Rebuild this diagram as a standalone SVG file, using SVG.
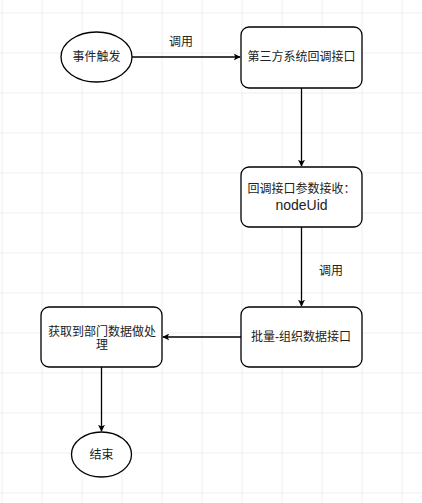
<svg xmlns="http://www.w3.org/2000/svg" width="422" height="503" viewBox="0 0 422 503">
<defs>
<pattern id="grid" x="1.5" y="12.5" width="40" height="40" patternUnits="userSpaceOnUse">
<path d="M0 0H40M0 0V40" fill="none" stroke="#dedede" stroke-width="1"/>
</pattern>
<marker id="arr" viewBox="0 0 10 10" refX="9" refY="5" markerWidth="7" markerHeight="7" markerUnits="userSpaceOnUse" orient="auto">
<path d="M0 0L10 5L0 10L2.5 5Z" fill="#000"/>
</marker>
</defs>
<style>
.n{fill:#fff;stroke:#000;stroke-width:1.3}
.t{font-family:"Liberation Sans","Noto Sans CJK SC",sans-serif;font-size:12px;fill:#222;text-anchor:middle;dominant-baseline:central}
.e{fill:none;stroke:#000;stroke-width:1.3;marker-end:url(#arr)}
</style>
<rect width="422" height="503" fill="#fff"/>
<rect width="422" height="503" fill="url(#grid)"/>
<g id="connectors">
<path class="e" d="M132 57H240"/>
<path class="e" d="M301.5 88V166"/>
<path class="e" d="M301.5 227V306"/>
<path class="e" d="M241 337H163"/>
<path class="e" d="M101.5 367V431"/>
<text class="t" x="181" y="42">调用</text>
<text class="t" x="331" y="271">调用</text>
</g>
<g id="start">
<ellipse class="n" cx="96.5" cy="57" rx="35.5" ry="25"/>
<text class="t" x="96.5" y="57">事件触发</text>
</g>
<g id="callback">
<rect class="n" x="241" y="27" width="121" height="61" rx="8"/>
<text class="t" x="301.5" y="57">第三方系统回调接口</text>
</g>
<g id="params">
<rect class="n" x="241" y="167" width="121" height="60" rx="8"/>
<text class="t" x="301.5" y="189">回调接口参数接收：</text>
<text class="t" x="301.5" y="204.5" style="font-size:14px">nodeUid</text>
</g>
<g id="batch">
<rect class="n" x="241" y="307" width="121" height="60" rx="8"/>
<text class="t" x="301" y="337">批量-组织数据接口</text>
</g>
<g id="process">
<rect class="n" x="41" y="307" width="121" height="60" rx="8"/>
<text class="t" x="102" y="331.5">获取到部门数据做处</text>
<text class="t" x="102" y="344.5">理</text>
</g>
<g id="end">
<ellipse class="n" cx="101.5" cy="454.5" rx="30" ry="22.5"/>
<text class="t" x="101.5" y="454.5">结束</text>
</g>
</svg>
